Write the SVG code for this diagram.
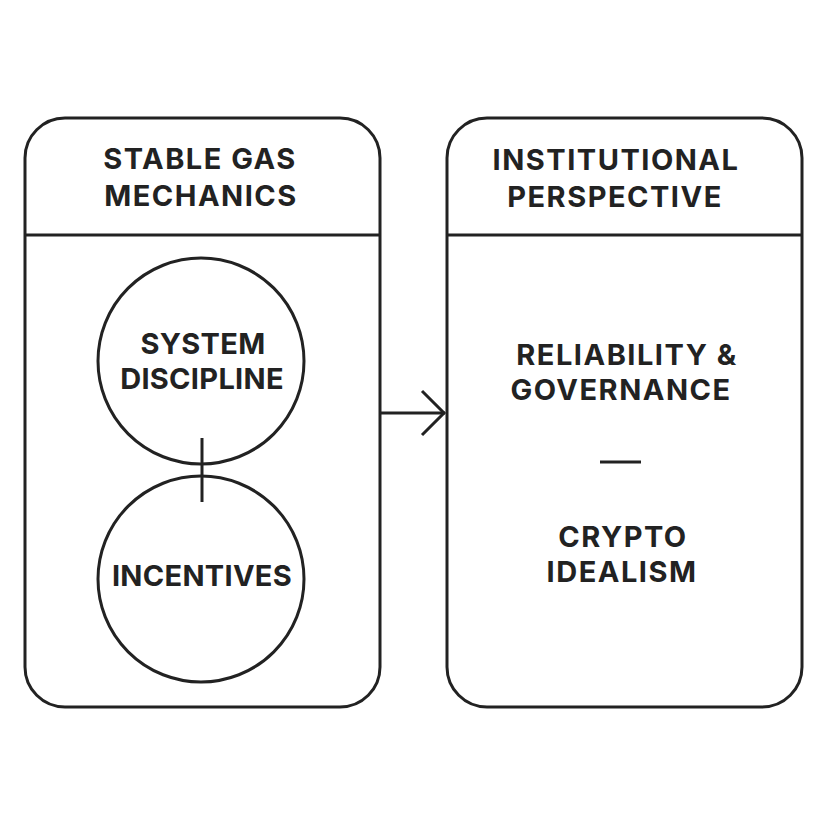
<svg xmlns="http://www.w3.org/2000/svg" width="828" height="828" viewBox="0 0 828 828">
<style>
.box{fill:none;stroke:#222;stroke-width:3}
.ln{stroke:#222;stroke-width:3;fill:none}
.t{font-family:Inter,"Liberation Sans",Arial,sans-serif;font-weight:700;font-size:29px;fill:#222;text-anchor:middle;letter-spacing:1.5px}
.c{letter-spacing:0.3px}
</style>
<rect width="828" height="828" fill="#fff"/>
<g id="left-panel">
<rect class="box" x="25" y="118" width="355" height="589" rx="40"/>
<line class="ln" x1="25" y1="235" x2="380" y2="235"/>
<text class="t" x="200" y="169">STABLE GAS</text>
<text class="t" x="201" y="206">MECHANICS</text>
</g>
<g id="system-discipline">
<circle class="box" cx="201" cy="361" r="103"/>
<text class="t c" x="203" y="354">SYSTEM</text>
<text class="t c" x="202" y="389">DISCIPLINE</text>
</g>
<g id="incentives">
<circle class="box" cx="201" cy="579" r="103"/>
<text class="t c" x="202" y="586">INCENTIVES</text>
</g>
<g id="right-panel">
<rect class="box" x="447" y="118" width="355" height="589" rx="40"/>
<line class="ln" x1="447" y1="235" x2="802" y2="235"/>
<text class="t" x="616" y="170">INSTITUTIONAL</text>
<text class="t" x="615" y="207">PERSPECTIVE</text>
<text class="t" x="627" y="365">RELIABILITY &amp;</text>
<text class="t" x="621" y="400">GOVERNANCE</text>
<line class="ln" x1="600" y1="462" x2="641" y2="462"/>
<text class="t" x="623" y="547">CRYPTO</text>
<text class="t" x="622" y="582">IDEALISM</text>
</g>
<g id="connectors">
<line class="ln" x1="202" y1="438" x2="202" y2="502"/>
<line class="ln" x1="380" y1="413" x2="445" y2="413"/>
<polyline class="ln" points="422,391 444,413 422,435"/>
</g>
</svg>
